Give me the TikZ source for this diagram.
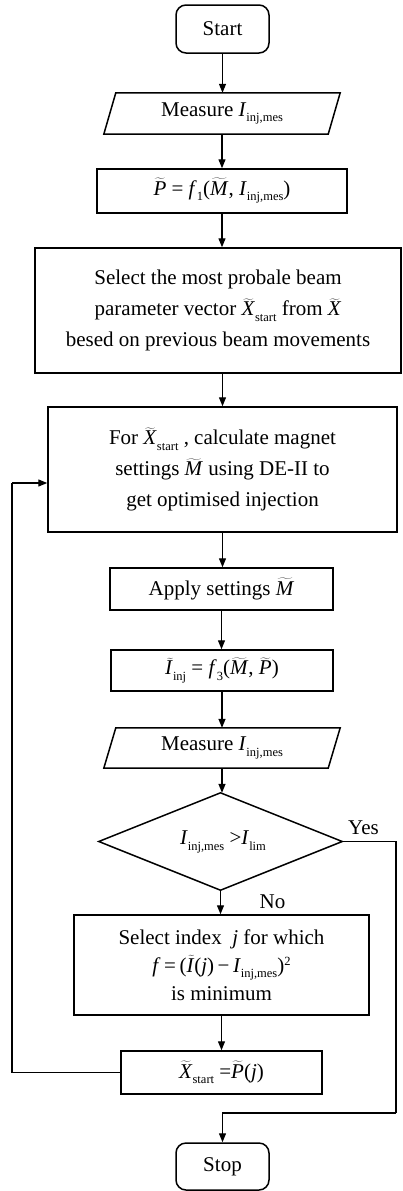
\documentclass[tikz,border=0pt]{standalone}
\usepackage{fontspec}
\setmainfont{Liberation Serif}
\usetikzlibrary{arrows.meta}
\newcommand\sbs[1]{\raisebox{-5.5pt}{\fontsize{12.5}{12.5}\selectfont #1}}
\newcommand\tI[1]{\ensuremath{\widetilde{\mbox{\textit{#1}}}}}
\newcommand\tII{\ensuremath{\widetilde{\mbox{\textit{I}\kern2pt}}}\kern-2pt}
\begin{document}
\begin{tikzpicture}[x=1pt,y=-1pt,
  every node/.style={inner sep=0pt, align=center, font=\fontsize{21}{31}\selectfont},
  box/.style={draw, line width=1.5pt},
  term/.style={draw, line width=1.5pt, rounded corners=10pt},
  shp/.style={line width=1.5pt},
  ln/.style={line width=1.3pt},
  arr/.style={-{Triangle[length=9pt,width=7pt]}, line width=1.3pt},
  lbl/.style={font=\fontsize{21}{21}\selectfont}]
\useasboundingbox (0,0) rectangle (403,1191);
\fill[white] (0,0) rectangle (403,1191);

\node[term, minimum width=93pt, minimum height=48pt] (start) at (222.5,29) {Start};

\node[minimum width=224pt, minimum height=41pt] (m1) at (222,113.5) {Measure \textit{I}\sbs{inj,mes}};
\draw[shp] ([xshift=6pt]m1.north west) -- ([xshift=6pt]m1.north east) -- ([xshift=-6pt]m1.south east) -- ([xshift=-6pt]m1.south west) -- cycle;

\node[box, minimum width=250pt, minimum height=44pt] (p) at (222,191) {\tI{P} = \textit{f}\sbs{1}(\tI{M}, \textit{I}\sbs{inj,mes})};

\node[box, minimum width=366pt, minimum height=125pt] (sel) at (218,310.5) {Select the most probale beam\\ parameter vector \tI{X}\sbs{start} from \tI{X}\\ besed on previous beam movements};

\node[box, minimum width=349pt, minimum height=125pt] (for) at (222.5,469.5) {For \tI{X}\sbs{start} , calculate magnet\\ settings \tI{M} using DE-II to\\ get optimised injection};

\node[box, minimum width=223pt, minimum height=42pt] (app) at (221.5,589) {Apply settings \tI{M}};

\node[box, minimum width=222pt, minimum height=41pt] (f3) at (222,670.5) {\tII\sbs{inj} = \textit{f}\sbs{3}(\tI{M}, \tI{P})};

\node[minimum width=224pt, minimum height=40pt] (m2) at (222,748) {Measure \textit{I}\sbs{inj,mes}};
\draw[shp] ([xshift=6pt]m2.north west) -- ([xshift=6pt]m2.north east) -- ([xshift=-6pt]m2.south east) -- ([xshift=-6pt]m2.south west) -- cycle;

\node[minimum width=243pt, minimum height=97pt] (d) at (220.5,841.5) {};
\draw[shp] (d.north) -- (d.east) -- (d.south) -- (d.west) -- cycle;
\node (dt) at (223,842) {\textit{I}\sbs{inj,mes} >\textit{I}\sbs{lim}};

\node[box, minimum width=295pt, minimum height=100pt, font=\fontsize{21}{28}\selectfont] (si) at (221.5,965) {Select index \ \textit{j} for which\\ \textit{f}\,=\,(\tII(\textit{j})\,−\,\textit{I}\sbs{inj,mes})\raisebox{7pt}{\fontsize{12.5}{12.5}\selectfont 2}\\ is minimum};

\node[box, minimum width=201pt, minimum height=43pt] (xs) at (221.5,1072.5) {\tI{X}\sbs{start} =\tI{P}(\textit{j})};

\node[term, minimum width=93pt, minimum height=47pt] (stop) at (222.5,1166.5) {Stop};

\node[lbl] (yes) at (363.5,828) {Yes};
\node[lbl] (no) at (272.5,902) {No};

\coordinate (y1) at (396,841.5);
\coordinate (y2) at (396,1113);
\coordinate (l1) at (12,1072.5);
\coordinate (l2) at (12,483);

\draw[arr] (start.south) -- (start.south |- m1.north);
\draw[arr] (m1.south) -- (m1.south |- p.north);
\draw[arr] (p.south) -- (p.south |- sel.north);
\draw[arr] (for.south |- sel.south) -- (for.north);
\draw[arr] (for.south) -- (for.south |- app.north);
\draw[arr] (app.south) -- (app.south |- f3.north);
\draw[arr] (f3.south) -- (f3.south |- m2.north);
\draw[arr] (m2.south) -- (m2.south |- d.north);
\draw[arr] (d.south) -- (d.south |- si.north);
\draw[arr] (si.south) -- (si.south |- xs.north);
\draw[ln] (d.east) -- (y1) -- (y2);
\draw[arr] (y2) -| (stop.north);
\draw[ln] (xs.west) -- (l1) -- (l2);
\draw[arr] (l2) -- (l2 -| for.west);
\end{tikzpicture}
\end{document}
